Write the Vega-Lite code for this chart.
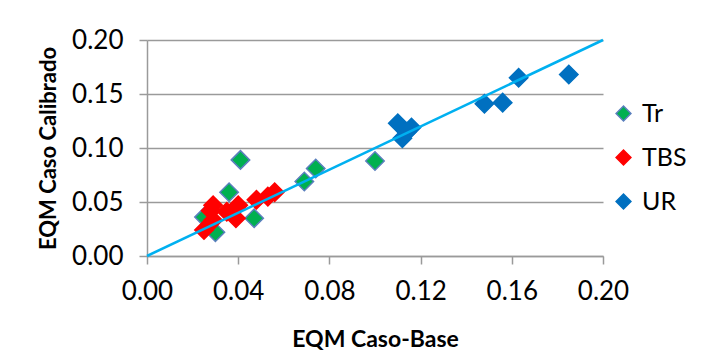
{
  "$schema": "https://vega.github.io/schema/vega-lite/v6.json",
  "width": 456,
  "height": 216,
  "autosize": "none",
  "padding": {"left": 147, "top": 40, "right": 107, "bottom": 107},
  "background": "white",
  "config": {
    "view": {"stroke": null},
    "font": "Lato",
    "axis": {
      "labelFont": "Lato",
      "labelFontSize": 26,
      "labelColor": "black",
      "labelFlush": false,
      "labelOverlap": false,
      "titleFont": "Lato",
      "titleFontSize": 23,
      "titleFontWeight": "bold",
      "titleColor": "black",
      "domainColor": "#9a9a9a",
      "domainWidth": 1.5,
      "tickColor": "#9a9a9a",
      "tickWidth": 1.5,
      "tickSize": 8,
      "gridColor": "#9a9a9a",
      "gridWidth": 1.5
    }
  },
  "layer": [
    {
      "data": {
        "values": [
          {"x": 0.041, "y": 0.089, "s": "Tr"},
          {"x": 0.036, "y": 0.059, "s": "Tr"},
          {"x": 0.047, "y": 0.035, "s": "Tr"},
          {"x": 0.069, "y": 0.069, "s": "Tr"},
          {"x": 0.074, "y": 0.081, "s": "Tr"},
          {"x": 0.100, "y": 0.088, "s": "Tr"},
          {"x": 0.025, "y": 0.036, "s": "Tr"},
          {"x": 0.030, "y": 0.022, "s": "Tr"},
          {"x": 0.029, "y": 0.047, "s": "TBS"},
          {"x": 0.025, "y": 0.024, "s": "TBS"},
          {"x": 0.029, "y": 0.033, "s": "TBS"},
          {"x": 0.040, "y": 0.047, "s": "TBS"},
          {"x": 0.039, "y": 0.035, "s": "TBS"},
          {"x": 0.048, "y": 0.052, "s": "TBS"},
          {"x": 0.053, "y": 0.055, "s": "TBS"},
          {"x": 0.056, "y": 0.059, "s": "TBS"},
          {"x": 0.035, "y": 0.041, "s": "TBS"},
          {"x": 0.028, "y": 0.042, "s": "TBS"},
          {"x": 0.110, "y": 0.123, "s": "UR"},
          {"x": 0.116, "y": 0.119, "s": "UR"},
          {"x": 0.112, "y": 0.109, "s": "UR"},
          {"x": 0.114, "y": 0.115, "s": "UR"},
          {"x": 0.148, "y": 0.141, "s": "UR"},
          {"x": 0.156, "y": 0.142, "s": "UR"},
          {"x": 0.163, "y": 0.165, "s": "UR"},
          {"x": 0.185, "y": 0.168, "s": "UR"}
        ]
      },
      "mark": {"type": "point", "shape": "diamond", "filled": true, "size": 340, "strokeWidth": 1.5, "opacity": 1},
      "encoding": {
        "x": {
          "field": "x", "type": "quantitative",
          "scale": {"domain": [0, 0.2], "nice": false, "zero": false},
          "axis": {"values": [0, 0.04, 0.08, 0.12, 0.16, 0.2], "format": ".2f", "grid": false, "title": "EQM Caso-Base", "labelPadding": 14, "titlePadding": 24}
        },
        "y": {
          "field": "y", "type": "quantitative",
          "scale": {"domain": [0, 0.2], "nice": false, "zero": false},
          "axis": {"values": [0, 0.05, 0.1, 0.15, 0.2], "format": ".2f", "grid": true, "title": "EQM Caso Calibrado", "titleFontSize": 22, "labelPadding": 16, "titlePadding": 11}
        },
        "fill": {
          "field": "s", "type": "nominal",
          "scale": {"domain": ["Tr", "TBS", "UR"], "range": ["#00B050", "#FF0000", "#0070C0"]},
          "legend": {
            "title": null, "orient": "none", "legendX": 464, "legendY": 61,
            "symbolType": "diamond", "symbolSize": 220, "labelFont": "Lato", "labelFontSize": 25,
            "labelColor": "black", "rowPadding": 18, "labelOffset": 6, "symbolStrokeWidth": 1.5
          }
        },
        "stroke": {
          "field": "s", "type": "nominal",
          "scale": {"domain": ["Tr", "TBS", "UR"], "range": ["#5B7FBE", "#FF0000", "#0070C0"]},
          "legend": {
            "title": null, "orient": "none", "legendX": 464, "legendY": 61,
            "symbolType": "diamond", "symbolSize": 220, "labelFont": "Lato", "labelFontSize": 25,
            "labelColor": "black", "rowPadding": 18, "labelOffset": 6, "symbolStrokeWidth": 1.5
          }
        }
      }
    },
    {
      "data": {"values": [{"x": 0, "y": 0}, {"x": 0.2, "y": 0.2}]},
      "mark": {"type": "line", "color": "#00B0F0", "strokeWidth": 2.5},
      "encoding": {
        "x": {"field": "x", "type": "quantitative"},
        "y": {"field": "y", "type": "quantitative"}
      }
    }
  ]
}
